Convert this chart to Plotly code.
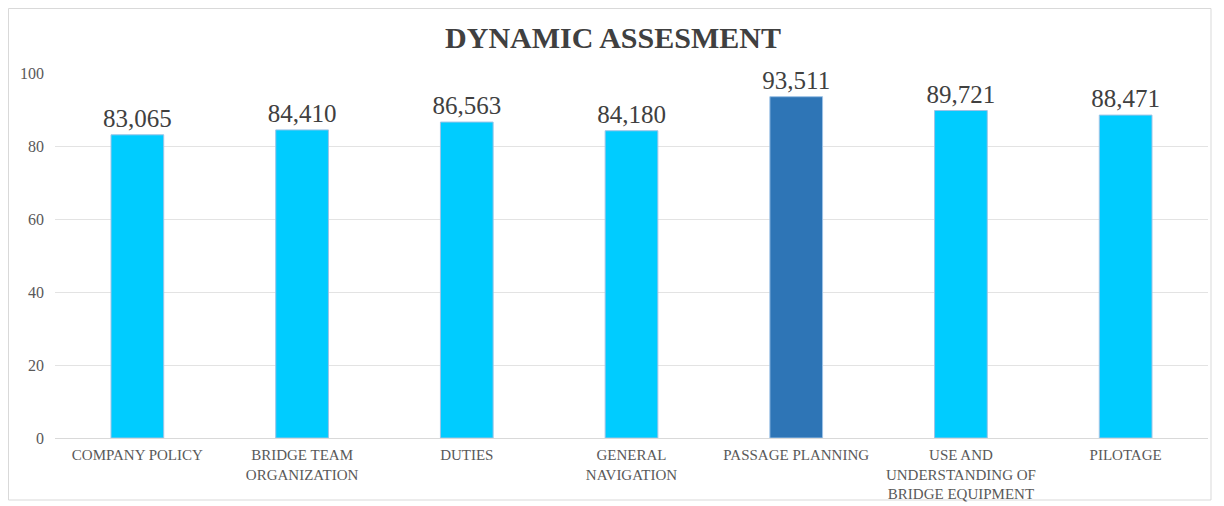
import plotly.graph_objects as go

categories = ["COMPANY POLICY", "BRIDGE TEAM<br>ORGANIZATION", "DUTIES", "GENERAL<br>NAVIGATION",
              "PASSAGE PLANNING", "USE AND<br>UNDERSTANDING OF<br>BRIDGE EQUIPMENT", "PILOTAGE"]
values = [83.065, 84.410, 86.563, 84.180, 93.511, 89.721, 88.471]
value_labels = ["83,065", "84,410", "86,563", "84,180", "93,511", "89,721", "88,471"]
bar_colors = ["#00CCFF", "#00CCFF", "#00CCFF", "#00CCFF", "#2E75B6", "#00CCFF", "#00CCFF"]
y_ticks = [0, 20, 40, 60, 80, 100]

# page has an 8px body margin, so the figure is offset by (8, 8)
W, H = 1216, 498
L, R, T, B = 47, 16, 65, 68

fig = go.Figure(go.Bar(
    x=categories, y=values, text=value_labels, textposition="outside",
    textfont=dict(family="Liberation Serif", size=25, color="#404040"),
    constraintext="none",
    marker=dict(color=bar_colors, line=dict(color="#9DC3E6", width=1)),
    width=0.32, cliponaxis=False,
))

pw = W - L - R
ph = H - T - B
fig.add_shape(type="rect", xref="paper", yref="paper",
              x0=(0.5 - L) / pw, x1=(1203 - L) / pw,
              y0=(H - B - 492) / ph, y1=(H - B - 0.5) / ph,
              line=dict(color="#D9D9D9", width=1), layer="below")

fig.update_layout(
    width=W, height=H,
    margin=dict(l=L, r=R, t=T, b=B),
    paper_bgcolor="white", plot_bgcolor="white",
    title=dict(text="<b>DYNAMIC ASSESMENT</b>", x=(613 - 8) / W, xanchor="center", y=1 - 29 / H, yanchor="middle",
               font=dict(family="Liberation Serif", size=30, color="#404040")),
    font=dict(family="Liberation Serif", size=15, color="#595959"),
    showlegend=False,
)
fig.update_yaxes(range=[0, 100], tickvals=y_ticks, showgrid=True, gridcolor="#E3E3E3", gridwidth=1,
                 zeroline=True, zerolinecolor="#D9D9D9", zerolinewidth=1, ticks="", showline=False,
                 automargin=False,
                 tickfont=dict(family="Liberation Serif", size=16, color="#595959"), ticklabelstandoff=10)
fig.update_xaxes(showline=False, ticks="", tickangle=0, automargin=False, ticklabelstandoff=6,
                 tickfont=dict(family="Liberation Serif", size=15, color="#595959"))

fig.write_html("out.html")
